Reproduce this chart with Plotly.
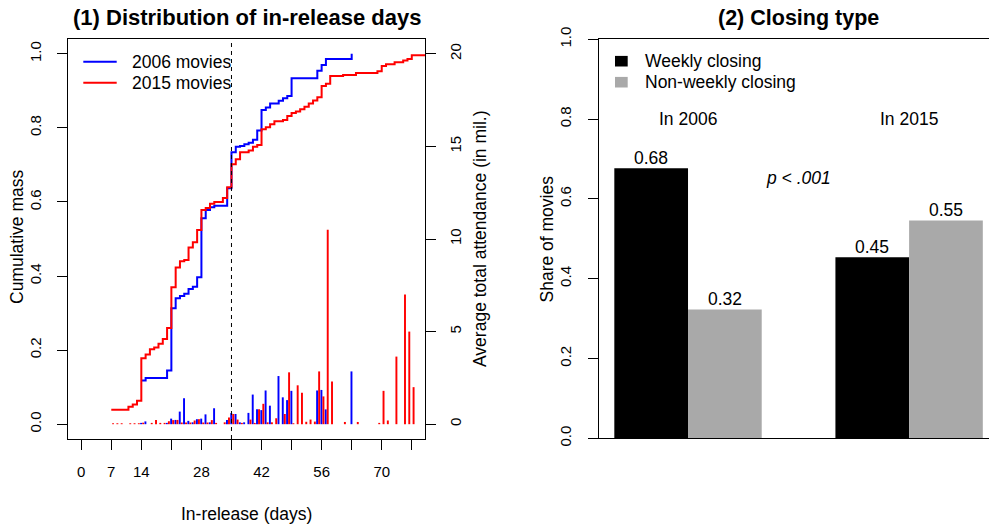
import plotly.graph_objects as go

W, H = 989, 525

# ---------------- Panel 1 data ----------------
# Cumulative mass of in-release days (step functions)
days_2006 = [14, 15, 20, 21, 22, 23, 24, 25, 26, 27, 28, 29, 30, 31, 34, 35, 36, 37, 38, 39,
             40, 41, 42, 43, 44, 46, 47, 48, 49, 55, 56, 57, 63]
cum_2006 = [0.118, 0.125, 0.145, 0.313, 0.340, 0.346, 0.352, 0.365, 0.371, 0.397, 0.556, 0.578,
            0.586, 0.590, 0.637, 0.734, 0.749, 0.751, 0.756, 0.760, 0.768, 0.793, 0.848, 0.855,
            0.866, 0.873, 0.880, 0.886, 0.934, 0.954, 0.970, 0.986, 1.000]

days_2015 = [7, 11, 12, 13, 14, 15, 16, 17, 18, 19, 20, 21, 22, 23, 24, 25, 26, 27, 28, 29, 30,
             31, 33, 34, 35, 36, 37, 39, 40, 41, 42, 43, 44, 45, 47, 48, 49, 50, 51, 52, 53, 54,
             55, 56, 57, 58, 61, 64, 69, 70, 71, 73, 75, 76, 77, 90]
cum_2015 = [0.039, 0.047, 0.053, 0.063, 0.178, 0.188, 0.202, 0.207, 0.217, 0.230, 0.260, 0.370,
            0.423, 0.440, 0.443, 0.477, 0.491, 0.524, 0.578, 0.584, 0.595, 0.600, 0.611, 0.640,
            0.702, 0.715, 0.734, 0.739, 0.749, 0.754, 0.796, 0.802, 0.810, 0.818, 0.821, 0.832,
            0.840, 0.844, 0.850, 0.857, 0.866, 0.874, 0.883, 0.913, 0.919, 0.940, 0.943, 0.948,
            0.953, 0.967, 0.972, 0.977, 0.982, 0.986, 0.996, 1.000]

# Average total attendance (in mil.) per in-release day
att_days_2006 = [14, 15, 20, 21, 22, 23, 24, 25, 26, 27, 28, 29, 30, 31, 34, 35, 36, 37, 38, 39,
                 40, 41, 42, 43, 44, 46, 47, 48, 49, 55, 56, 57, 63]
att_2006 = [0.07, 0.15, 0.07, 0.30, 0.23, 0.68, 1.40, 0.18, 0.10, 0.27, 0.30, 0.53, 0.10, 0.86,
            0.23, 0.60, 0.55, 0.10, 0.10, 0.61, 1.60, 0.80, 0.76, 1.82, 1.00, 2.60, 1.45, 1.30,
            1.80, 1.82, 1.85, 0.80, 2.85]

att_days_2015 = [7, 8, 9, 11, 12, 13, 14, 16, 17, 18, 19, 20, 21, 22, 23, 24, 25, 26, 27, 28, 29,
                 30, 31, 33, 34, 35, 36, 37, 39, 40, 41, 42, 43, 44, 45, 47, 48, 49, 50, 51, 52,
                 53, 54, 55, 56, 57, 58, 61, 64, 69, 70, 71, 73, 75, 76, 77]
att_2015 = [0.05, 0.05, 0.05, 0.05, 0.05, 0.05, 0.08, 0.07, 0.22, 0.07, 0.07, 0.16, 0.22, 0.23,
            0.09, 0.09, 0.09, 0.20, 0.27, 0.09, 0.09, 0.22, 0.07, 0.10, 0.36, 0.55, 0.25, 0.07,
            0.25, 0.07, 0.80, 1.10, 0.10, 0.10, 0.32, 0.55, 2.80, 0.05, 2.10, 1.70, 0.13, 0.25,
            0.14, 2.85, 1.50, 10.50, 2.30, 0.12, 0.12, 0.07, 1.80, 0.20, 3.65, 7.00, 5.00, 2.00]

x_tick_vals = [0, 7, 14, 21, 28, 35, 42, 49, 56, 63, 70, 77]
x_tick_text = ["0", "7", "14", "", "28", "", "42", "", "56", "", "70", ""]
cum_tick_vals = [0.0, 0.2, 0.4, 0.6, 0.8, 1.0]
att_tick_vals = [0, 5, 10, 15, 20]
cutoff_day = 35
series_names = ["2006 movies", "2015 movies"]

# ---------------- Panel 2 data ----------------
groups = ["In 2006", "In 2015"]
closing_names = ["Weekly closing", "Non-weekly closing"]
weekly_share = [0.677, 0.454]
nonweekly_share = [0.323, 0.546]
share_tick_vals = [0.0, 0.2, 0.4, 0.6, 0.8, 1.0]

FONT = "Liberation Sans, Arial, Helvetica, sans-serif"
BLUE, RED = "#0000FF", "#FF0000"
GREY = "#A9A9A9"


def fx(px):
    return px / W


def fy(py):
    return 1 - py / H


fig = go.Figure()

# step lines
fig.add_trace(go.Scatter(x=days_2006, y=cum_2006, mode="lines", line=dict(color=BLUE, width=2, shape="hv"),
                         name=series_names[0], xaxis="x", yaxis="y"))
fig.add_trace(go.Scatter(x=days_2015, y=cum_2015, mode="lines", line=dict(color=RED, width=2, shape="hv"),
                         name=series_names[1], xaxis="x", yaxis="y"))

# attendance spikes
fig.add_trace(go.Bar(x=[d - 0.05 for d in att_days_2006], y=att_2006, width=0.45,
                     marker=dict(color=BLUE, line=dict(width=0)), xaxis="x", yaxis="y2"))
fig.add_trace(go.Bar(x=[d + 0.42 for d in att_days_2015], y=att_2015, width=0.45,
                     marker=dict(color=RED, line=dict(width=0)), xaxis="x", yaxis="y2"))

# closing type bars
weekly_x = [1.5 + 3 * g for g in range(len(groups))]
nonweekly_x = [2.5 + 3 * g for g in range(len(groups))]
fig.add_trace(go.Bar(x=weekly_x, y=weekly_share, width=1,
                     marker=dict(color="black", line=dict(width=0)), name=closing_names[0],
                     xaxis="x2", yaxis="y3"))
fig.add_trace(go.Bar(x=nonweekly_x, y=nonweekly_share, width=1,
                     marker=dict(color=GREY, line=dict(width=0)), name=closing_names[1],
                     xaxis="x2", yaxis="y3"))

axis_common = dict(showgrid=False, zeroline=False, ticks="outside", ticklen=10, tickcolor="black",
                   tickwidth=1, linecolor="black", linewidth=1, tickfont=dict(size=15, color="black"),
                   automargin=False)

fig.update_layout(
    width=W, height=H,
    margin=dict(l=0, r=0, t=0, b=0, autoexpand=False),
    plot_bgcolor="white", paper_bgcolor="white",
    font=dict(family=FONT, size=17.5, color="black"),
    barmode="overlay",
    showlegend=False,
    hovermode=False,
    xaxis=dict(domain=[fx(68), fx(425)], range=[-3.08, 80.08], tickvals=x_tick_vals, ticktext=x_tick_text,
               showline=True, mirror=True, ticklabelstandoff=9, anchor="y", **axis_common),
    yaxis=dict(domain=[fy(439), fy(39)], range=[-0.04, 1.04], tickvals=cum_tick_vals, tickformat=".1f",
               tickangle=-90, showline=True, mirror=True, ticklabelstandoff=10, anchor="x", **axis_common),
    yaxis2=dict(overlaying="y", anchor="x", side="right", range=[-0.8, 20.8], tickvals=att_tick_vals,
                tickangle=-90, showline=False, ticklabelstandoff=7, **axis_common),
    xaxis2=dict(domain=[fx(598.7), 1.0], range=[0.788, 6.084], showticklabels=False, ticks="",
                showline=True, mirror=True, showgrid=False, zeroline=False, linecolor="black", linewidth=1,
                anchor="y3", automargin=False),
    yaxis3=dict(domain=[fy(438.3), fy(39.3)], range=[0, 1], tickvals=share_tick_vals, tickformat=".1f",
                tickangle=-90, showline=True, ticklabelstandoff=11, anchor="x2", **axis_common),
)

# cutoff line
fig.add_shape(type="line", xref="x", yref="y domain", x0=cutoff_day, x1=cutoff_day, y0=0, y1=1,
              line=dict(color="black", width=1, dash="4px,4px"))

ann = []
# legend, panel 1 (line keys)
for name, color, ypx in zip(series_names, [BLUE, RED], [61.7, 82.7]):
    fig.add_shape(type="line", xref="paper", yref="paper", x0=fx(83.3), x1=fx(116.7), y0=fy(ypx), y1=fy(ypx),
                  line=dict(color=color, width=2))
    ann.append(dict(text=name, x=fx(130), y=fy(ypx), xref="paper", yref="paper", showarrow=False,
                    xanchor="left", yanchor="middle"))
# legend, panel 2 (filled squares)
for name, color, ypx in zip(closing_names, ["black", GREY], [61.2, 82.2]):
    fig.add_shape(type="rect", xref="paper", yref="paper", x0=fx(615), x1=fx(627.7), y0=fy(ypx - 5.3),
                  y1=fy(ypx + 5.3), line=dict(width=0), fillcolor=color)
    ann.append(dict(text=name, x=fx(642.5), y=fy(ypx), xref="paper", yref="paper", showarrow=False,
                    xanchor="left", yanchor="middle"))

# value labels above the closing-type bars
for xs, vals in [(weekly_x, weekly_share), (nonweekly_x, nonweekly_share)]:
    for xv, v in zip(xs, vals):
        ann.append(dict(text=f"{v:.2f}", x=xv, y=v, xref="x2", yref="y3", showarrow=False,
                        xanchor="center", yanchor="bottom", yshift=-2))

# titles
ann.append(dict(text="<b>(1) Distribution of in-release days</b>", x=fx(246.5), y=fy(18), xref="paper",
                yref="paper", showarrow=False, font=dict(size=22), xanchor="center", yanchor="middle"))
ann.append(dict(text="<b>(2) Closing type</b>", x=fx(798), y=fy(18), xref="paper", yref="paper",
                showarrow=False, font=dict(size=21.5), xanchor="center", yanchor="middle"))
# axis titles
ann.append(dict(text="In-release (days)", x=fx(246.5), y=fy(514), xref="paper", yref="paper",
                showarrow=False, xanchor="center", yanchor="middle"))
ann.append(dict(text="Cumulative mass", x=fx(17), y=fy(237), xref="paper", yref="paper", textangle=-90,
                showarrow=False, xanchor="center", yanchor="middle"))
ann.append(dict(text="Average total attendance (in mil.)", x=fx(480), y=fy(239), xref="paper", yref="paper",
                textangle=-90, showarrow=False, xanchor="center", yanchor="middle"))
ann.append(dict(text="Share of movies", x=fx(546.5), y=fy(239), xref="paper", yref="paper", textangle=-90,
                showarrow=False, xanchor="center", yanchor="middle"))
# group labels
for g, lab in enumerate(groups):
    ann.append(dict(text=lab, x=2 + 3 * g, y=0.8, xref="x2", yref="y3", showarrow=False,
                    xanchor="center", yanchor="middle"))
ann.append(dict(text="<i>p < .001</i>", x=3.5, y=0.652, xref="x2", yref="y3", showarrow=False,
                xanchor="center", yanchor="middle"))
fig.update_layout(annotations=ann)

# remove the default 8px page margin so the 989x525 figure fills the window exactly
fig.write_html("out.html", config={"displayModeBar": False, "staticPlot": True},
               post_script="document.body.style.margin='0';")
